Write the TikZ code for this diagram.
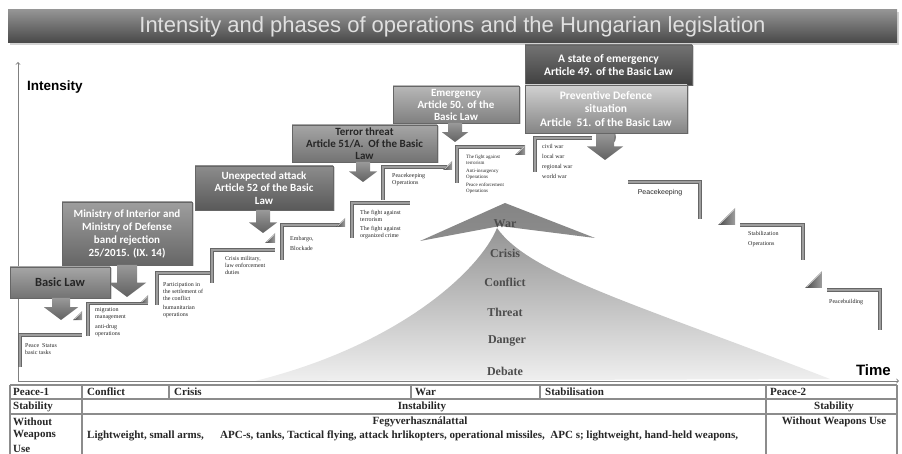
\documentclass[tikz,border=0pt]{standalone}
\usepackage{fontspec}
\setmainfont{Liberation Serif}
\setsansfont{Liberation Sans}
\newfontfamily\boxfont{Carlito}
\usetikzlibrary{shadows}

\newcommand{\DnArrow}[5]{\shade[arrowshade] (#1-#4,#2) -- (#1+#4,#2) -- (#1+#4,#3-0.75*#5) -- (#1+#5,#3-0.75*#5) -- (#1,#3) -- (#1-#5,#3-0.75*#5) -- (#1-#4,#3-0.75*#5) -- cycle;}
\newcommand{\StepTri}[3]{\shade[tri] (#1-#3,#2) -- (#1,#2) -- (#1,#2-#3) -- cycle;
  \draw[black!15, line width=0.6pt] (#1-#3+1.5,#2-0.8) -- (#1-0.8,#2-#3+1.5);}

\begin{document}
\begin{tikzpicture}[x=1pt,y=-1pt,
  titlebar/.style={rectangle, top color=black!42, bottom color=black!72, minimum width=889pt, minimum height=33pt,
     text=white!88!black, font=\sffamily\fontsize{22}{25}\selectfont, inner sep=0pt,
     drop shadow={opacity=0.35, shadow xshift=1.5pt, shadow yshift=-2pt}},
  lawbox/.style n args={3}{rectangle, top color=#1, bottom color=#2, text=#3, draw=black!60, line width=0.5pt,
     font=\boxfont\bfseries\fontsize{11}{12.3}\selectfont, align=center, inner sep=1pt,
     drop shadow={opacity=0.35, shadow xshift=1.5pt, shadow yshift=-1.5pt}},
  arrowshade/.style={top color=black!40, bottom color=black!62},
  tri/.style={left color=black!72, right color=black!38},
  stepbar/.style={draw=black!60, line width=3.4pt, postaction={draw=black!38, line width=1.2pt}},
  steptext/.style={anchor=north west, inner sep=0pt, align=left, text=black!85, font=\fontsize{6}{7}\selectfont},
  pyr/.style={inner sep=0pt, text=black!70, font=\bfseries\fontsize{12}{14}\selectfont},
  axis/.style={draw=black!50, line width=0.9pt},
  tabline/.style={draw=black!45, line width=1.1pt},
  tabtext/.style={inner sep=0pt, text=black!85, font=\bfseries\fontsize{11}{14}\selectfont}
]
\useasboundingbox (0,0) rectangle (902,454);
\clip (0,0) rectangle (902,454);

% title
\node[titlebar] (title) at (452.5,26.5) {Intensity and phases of operations and the Hungarian legislation};

% pyramid
\shade[top color=black!48, bottom color=black!45] (420,241) -- (505,203) -- (595,238) -- (500,226) -- cycle;
\shade[top color=black!42, bottom color=black!6] (255,381) .. controls (400,345) and (480,270) .. (497,228)
   .. controls (530,275) and (640,305) .. (830,379) -- cycle;
\node[pyr] (pwar) at (505,224) {War};
\node[pyr] (pcrisis) at (505,253) {Crisis};
\node[pyr] (pconf) at (505,282) {Conflict};
\node[pyr] (pthreat) at (505,312) {Threat};
\node[pyr] (pdanger) at (507,341) {Danger};
\node[pyr] (pdebate) at (505,371) {Debate};

% axes
\coordinate (org) at (18,381);
\coordinate (ytip) at (18,62);
\coordinate (xtip) at (899,381);
\draw[axis,->] (org) -- (ytip);
\draw[axis,->] (org) -- (xtip);
\node[anchor=west, inner sep=0pt, font=\sffamily\bfseries\fontsize{13.5}{15}\selectfont] (intens) at (27,87) {Intensity};
\node[anchor=east, inner sep=0pt, font=\sffamily\bfseries\fontsize{15}{17}\selectfont] (time) at (891,370) {Time};

% ascending steps
\draw[stepbar] (20,367) -- (20,335) -- (82,335);
\node[steptext] (s1) at (25,343) {Peace~~Status\\basic tasks};
\StepTri{82}{320}{9}

\draw[stepbar] (88,336) -- (88,303.5) -- (148,303.5);
\node[steptext] (s2) at (95,307) {migration\\management\\[3pt]anti-drug\\operations};
\StepTri{148}{303}{8}

\draw[stepbar] (157,305) -- (157,273) -- (212,273);
\node[steptext] (s3) at (163,282) {Participation in\\the settlement of\\the conflict\\[2.5pt]humanitarian\\operations};

\draw[stepbar] (212,283) -- (212,250) -- (275,250);
\node[steptext] (s4) at (225,256) {Crisis military,\\law enforcement\\duties};
\StepTri{275}{243}{10}

\draw[stepbar] (282,260) -- (282,225) -- (343,225);
\node[steptext] (s5) at (290,236) {Embargo,\\[3pt]Blockade};
\StepTri{345}{227}{9}

\draw[stepbar] (352,238) -- (352,203) -- (410,203);
\node[steptext] (s6) at (360,210) {The fight against\\terrorism\\[2.5pt]The fight against\\organized crime};

\draw[stepbar] (383,200) -- (383,167) -- (447,167);
\node[steptext] (s7) at (392,173) {Peacekeeping\\Operations};
\StepTri{452}{170}{9}

\draw[stepbar] (457,183) -- (457,147) -- (525,147);
\node[steptext, font=\fontsize{5}{6}\selectfont] (s8) at (466,155) {The fight against\\terrorism\\[2pt]Anti-insurgency\\Operations\\[2pt]Peace enforcement\\Operations};
\StepTri{525}{155}{10}

\draw[stepbar] (535,172) -- (535,138) -- (592,138);
\node[steptext] (s9) at (542,144) {civil war\\[3pt]local war\\[3pt]regional war\\[3pt]world war};

% descending steps
\draw[stepbar] (628,182) -- (700,182) -- (700,219);
\node[inner sep=0pt, text=black!85, font=\sffamily\fontsize{7}{8}\selectfont] (d1) at (660,193) {Peacekeeping};
\StepTri{735}{225}{17}

\draw[stepbar] (740,225) -- (803,225) -- (803,260);
\node[steptext] (d2) at (748,231) {Stabilization\\[3pt]Operations};
\StepTri{822}{288}{17}

\draw[stepbar] (827,290) -- (880,290) -- (880,330);
\node[steptext] (d3) at (829,299) {Peacebuilding};

% law boxes and arrows
\node[lawbox={black!28}{black!50}{white}, minimum width=126pt, minimum height=37pt, font=\boxfont\bfseries\fontsize{11}{12}\selectfont] (b5) at (456,104.5) {Emergency\\Article 50. of the\\Basic Law};
\DnArrow{455}{123}{142}{7}{13}

\node[lawbox={black!35}{black!55}{black!85}, minimum width=145pt, minimum height=37pt, font=\boxfont\bfseries\fontsize{11}{11.8}\selectfont] (b4) at (364.5,143.5) {Terror threat\\Article 51/A.~~Of the Basic\\Law};
\DnArrow{363}{162}{182}{7}{14}

\node[lawbox={black!45}{black!65}{white}, minimum width=138pt, minimum height=44pt] (b3) at (264,188) {Unexpected attack\\Article 52 of the Basic\\Law};
\DnArrow{263}{210}{233}{7}{14}

\node[lawbox={black!38}{black!60}{white}, minimum width=130pt, minimum height=63pt, font=\boxfont\bfseries\fontsize{11}{13}\selectfont] (b2) at (127,233.5) {Ministry of Interior and\\Ministry of Defense\\band rejection\\25/2015. (IX. 14)};
\DnArrow{127}{265}{297}{10}{19}

\node[lawbox={black!35}{black!55}{black!85}, minimum width=100pt, minimum height=31pt, font=\boxfont\bfseries\fontsize{12.5}{14}\selectfont] (b1) at (60,282.5) {Basic Law};
\DnArrow{61}{298}{320}{9}{17}

\node[lawbox={black!55}{black!75}{white}, minimum width=167pt, minimum height=40pt, font=\boxfont\bfseries\fontsize{11.5}{13.5}\selectfont] (b6) at (608.5,65) {A state of emergency\\Article 49. of the Basic Law};
\shade[arrowshade] (607,137) circle (9);
\DnArrow{605}{133}{160}{9}{18}
\node[lawbox={black!18}{black!48}{white}, minimum width=162pt, minimum height=48pt, font=\boxfont\bfseries\fontsize{11.5}{13.5}\selectfont] (b7) at (606,109) {Preventive Defence\\situation\\Article~~51. of the Basic Law};

% table
\draw[tabline] (10,385) -- (897,385);
\draw[tabline] (10,399) -- (897,399);
\draw[tabline] (10,414) -- (897,414);
\draw[tabline] (10,385) -- (10,454);
\draw[tabline] (82,385) -- (82,454);
\draw[tabline] (169,385) -- (169,399);
\draw[tabline] (411,385) -- (411,399);
\draw[tabline] (540,385) -- (540,399);
\draw[tabline] (766,385) -- (766,454);
\draw[tabline] (897,385) -- (897,454);

\node[tabtext, anchor=west] (t11) at (13,392) {Peace-1};
\node[tabtext, anchor=west] (t12) at (87,392) {Conflict};
\node[tabtext, anchor=west] (t13) at (174,392) {Crisis};
\node[tabtext, anchor=west] (t14) at (415,392) {War};
\node[tabtext, anchor=west] (t15) at (545,392) {Stabilisation};
\node[tabtext, anchor=west] (t16) at (770,392) {Peace-2};

\node[tabtext, anchor=west] (t21) at (13,406.5) {Stability};
\node[tabtext] (t22) at (422,406.5) {Instability};
\node[tabtext] (t23) at (834,406.5) {Stability};

\node[tabtext, anchor=west] (t31) at (13,422) {Without};
\node[tabtext, anchor=west] (t32) at (13,435.5) {Weapons};
\node[tabtext, anchor=west] (t33) at (13,448.5) {Use};
\node[tabtext] (t34) at (420,422) {Fegyverhasználattal};
\node[tabtext, anchor=west] (t35) at (87,436) {Lightweight, small arms,};
\node[tabtext, anchor=west] (t36) at (220,436) {APC-s, tanks, Tactical flying, attack hrlikopters, operational missiles,~~APC s; lightweight, hand-held weapons,};
\node[tabtext] (t37) at (834,422) {Without Weapons Use};
\end{tikzpicture}
\end{document}
